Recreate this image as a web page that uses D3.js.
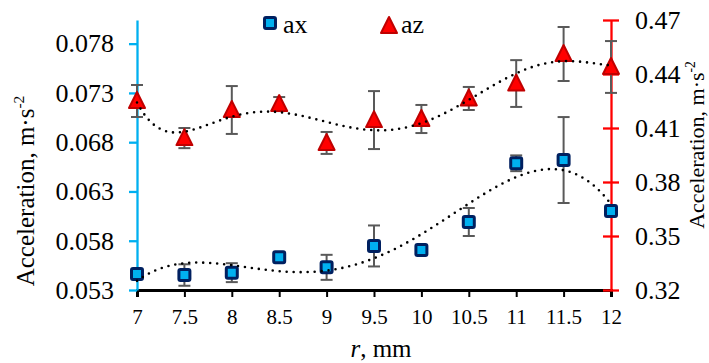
<!DOCTYPE html>
<html>
<head>
<meta charset="utf-8">
<script src="https://cdn.jsdelivr.net/npm/d3@7"></script>
<style>
  body { margin: 0; background: #fff; }
  svg { display: block; }
  svg text { font-family: "Liberation Serif", "Times New Roman", Times, "DejaVu Serif", serif; }
</style>
</head>
<body>
<svg id="chart" width="709" height="363"></svg>
<script>
// data
const radius = [7, 7.5, 8, 8.5, 9, 9.5, 10, 10.5, 11, 11.5, 12];
const ax    = [0.05462, 0.05452, 0.05476, 0.05632, 0.0553, 0.05747, 0.05706, 0.0599, 0.06586, 0.06619, 0.06102];
const axErr = [0, 0.00109, 0.00096, 0, 0.00127, 0.00208, 0, 0.00142, 0.0008, 0.00436, 0];
const az    = [0.425, 0.4044, 0.42, 0.4233, 0.4017, 0.4144, 0.415, 0.4264, 0.4347, 0.4511, 0.4439];
const azErr = [0.0089, 0.0056, 0.0133, 0.0039, 0.0061, 0.0161, 0.0078, 0.0064, 0.013, 0.015, 0.0144];

const xTicks = [7, 7.5, 8, 8.5, 9, 9.5, 10, 10.5, 11, 11.5, 12];
const leftTicks = [0.053, 0.058, 0.063, 0.068, 0.073, 0.078];
const rightTicks = [0.32, 0.35, 0.38, 0.41, 0.44, 0.47];

const svg = d3.select("#chart");

const x = d3.scaleLinear().domain([7, 12]).range([137, 611]);
const yL = d3.scaleLinear().domain([0.053, 0.0804]).range([290, 20]);
const yR = d3.scaleLinear().domain([0.32, 0.47]).range([290, 20]);

// polynomial trendline (least squares), like the spreadsheet one
function polyfit(xs, ys, deg) {
    const n = deg + 1;
    const A = d3.range(n).map(() => new Array(n).fill(0));
    const b = new Array(n).fill(0);
    xs.forEach((xv, k) => {
        const t = (xv - 9.5) / 2.5;
        for (let i = 0; i < n; i++) {
            for (let j = 0; j < n; j++) A[i][j] += Math.pow(t, i + j);
            b[i] += ys[k] * Math.pow(t, i);
        }
    });
    for (let c = 0; c < n; c++) {
        let p = c;
        for (let r = c + 1; r < n; r++) if (Math.abs(A[r][c]) > Math.abs(A[p][c])) p = r;
        [A[c], A[p]] = [A[p], A[c]];
        [b[c], b[p]] = [b[p], b[c]];
        for (let r = c + 1; r < n; r++) {
            const f = A[r][c] / A[c][c];
            for (let j = c; j < n; j++) A[r][j] -= f * A[c][j];
            b[r] -= f * b[c];
        }
    }
    const coef = new Array(n).fill(0);
    for (let i = n - 1; i >= 0; i--) {
        let s = b[i];
        for (let j = i + 1; j < n; j++) s -= A[i][j] * coef[j];
        coef[i] = s / A[i][i];
    }
    return xv => {
        const t = (xv - 9.5) / 2.5;
        return coef.reduce((acc, c, i) => acc + c * Math.pow(t, i), 0);
    };
}

// axes
const xAxis = svg.append("g")
    .attr("transform", "translate(0,290)")
    .call(d3.axisBottom(x).tickValues(xTicks).tickSize(7).tickPadding(12).tickFormat(d3.format("")));
xAxis.attr("font-family", null);
xAxis.select(".domain").attr("stroke", "#000").attr("stroke-width", 3);
xAxis.selectAll(".tick line").attr("stroke", "#000").attr("stroke-width", 2);
xAxis.selectAll(".tick text").attr("font-size", 21).attr("fill", "#000");

const leftAxis = svg.append("g")
    .attr("transform", "translate(137,0)")
    .call(d3.axisLeft(yL).tickValues(leftTicks).tickSize(8).tickSizeOuter(0).tickPadding(15).tickFormat(d3.format(".3f")));
leftAxis.attr("font-family", null);
leftAxis.select(".domain").attr("stroke", "#00B0F0").attr("stroke-width", 2.3);
leftAxis.selectAll(".tick line").attr("stroke", "#00B0F0").attr("stroke-width", 2.3);
leftAxis.selectAll(".tick text").attr("font-size", 26).attr("fill", "#000");

const rightAxis = svg.append("g")
    .attr("transform", "translate(611,0)")
    .call(d3.axisRight(yR).tickValues(rightTicks).tickSize(8).tickSizeOuter(0).tickPadding(16).tickFormat(d3.format(".2f")));
rightAxis.attr("font-family", null);
rightAxis.select(".domain").attr("stroke", "#FF0000").attr("stroke-width", 2.3);
rightAxis.selectAll(".tick line").attr("x1", -8).attr("stroke", "#FF0000").attr("stroke-width", 2.3);
rightAxis.selectAll(".tick text").attr("font-size", 26).attr("fill", "#000");

// error bars
function errorBars(vals, errs, y) {
    const g = svg.append("g").attr("stroke", "#595959").attr("stroke-width", 2).attr("fill", "none");
    radius.forEach((r, i) => {
        if (!errs[i]) return;
        const cx = x(r), y1 = y(vals[i] + errs[i]), y2 = y(vals[i] - errs[i]);
        g.append("line").attr("x1", cx).attr("x2", cx).attr("y1", y1).attr("y2", y2);
        g.append("line").attr("x1", cx - 6).attr("x2", cx + 6).attr("y1", y1).attr("y2", y1);
        g.append("line").attr("x1", cx - 6).attr("x2", cx + 6).attr("y1", y2).attr("y2", y2);
    });
}
errorBars(az, azErr, yR);
errorBars(ax, axErr, yL);

// markers
function square(g, cx, cy) {
    g.append("rect").attr("x", cx - 5.5).attr("y", cy - 5.5).attr("width", 11).attr("height", 11)
        .attr("rx", 1.5).attr("fill", "#00B0F0").attr("stroke", "#002060").attr("stroke-width", 3);
}
function triangle(g, cx, cy) {
    g.append("path")
        .attr("d", `M${cx},${cy - 9}L${cx + 8},${cy + 7}L${cx - 8},${cy + 7}Z`)
        .attr("fill", "#FF0000").attr("stroke", "#C00000").attr("stroke-width", 2).attr("stroke-linejoin", "round");
}
const markers = svg.append("g");
radius.forEach((r, i) => triangle(markers, x(r), yR(az[i])));
radius.forEach((r, i) => square(markers, x(r), yL(ax[i])));

// trendlines
const samples = d3.range(7, 12.0001, 0.02);
const fitAx = polyfit(radius, ax, 4);
const fitAz = polyfit(radius, az, 6);
const dotted = g => g.attr("fill", "none").attr("stroke", "#000").attr("stroke-width", 2.6)
    .attr("stroke-linecap", "round").attr("stroke-dasharray", "0,7");
svg.append("path").datum(samples)
    .attr("d", d3.line().x(d => x(d)).y(d => yL(fitAx(d))))
    .call(dotted);
svg.append("path").datum(samples)
    .attr("d", d3.line().x(d => x(d)).y(d => yR(fitAz(d))))
    .call(dotted);

// legend
const legend = svg.append("g").attr("font-size", 26).attr("fill", "#000");
square(legend, 270, 23);
legend.append("text").attr("x", 283).attr("y", 33).text("ax");
triangle(legend, 389, 26);
legend.append("text").attr("x", 401).attr("y", 33).text("az");

// axis titles
function accTitle(tx, ty, size) {
    const t = svg.append("text")
        .attr("transform", `translate(${tx},${ty}) rotate(-90)`)
        .attr("text-anchor", "middle").attr("font-size", size).attr("fill", "#000");
    t.append("tspan").text("Acceleration, m·s");
    t.append("tspan").attr("font-size", size * 0.62).attr("dy", -size * 0.4).text("-2");
}
accTitle(34, 191, 25);
accTitle(704, 145, 22);

const xt = svg.append("text").attr("x", 381).attr("y", 357).attr("text-anchor", "middle")
    .attr("font-size", 25).attr("fill", "#000");
xt.append("tspan").attr("font-style", "italic").text("r");
xt.append("tspan").text(", mm");
</script>
</body>
</html>
